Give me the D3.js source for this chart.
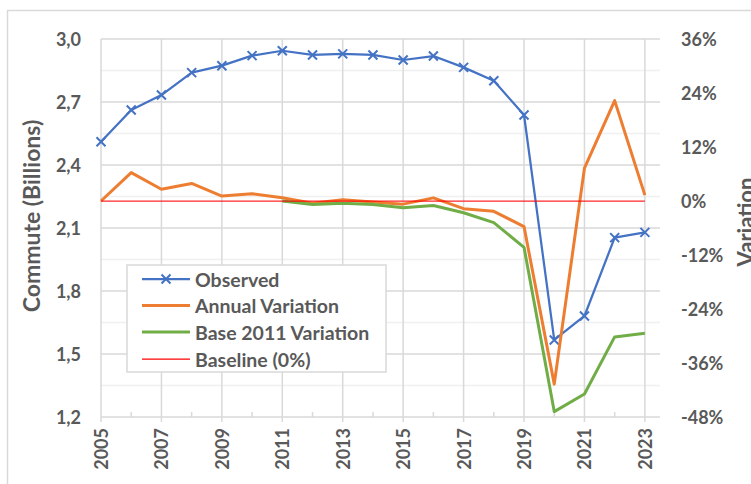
<!DOCTYPE html>
<html>
<head>
<meta charset="utf-8">
<script src="https://cdn.jsdelivr.net/npm/d3@7"></script>
<style>
  html, body { margin: 0; padding: 0; background: #fff; }
  svg { display: block; }
  text { font-family: Lato, "Open Sans", "Liberation Sans", sans-serif; fill: #595959; }
</style>
</head>
<body>
<svg id="chart" width="751" height="484"></svg>
<script>
// Yearly commute totals (billions) and the two variation series (%)
const years = [2005, 2006, 2007, 2008, 2009, 2010, 2011, 2012, 2013, 2014,
               2015, 2016, 2017, 2018, 2019, 2020, 2021, 2022, 2023];
const observed = [2.511, 2.662, 2.733, 2.840, 2.873, 2.921, 2.944, 2.924, 2.929, 2.924,
                  2.900, 2.919, 2.865, 2.801, 2.638, 1.567, 1.681, 2.054, 2.079];
const annualVariation = [0.0, 6.3, 2.6, 3.9, 1.1, 1.6, 0.7, -0.5, 0.3, -0.2,
                         -0.7, 0.7, -1.7, -2.3, -5.7, -40.7, 7.3, 22.3, 1.3];
const baseYears = [2011, 2012, 2013, 2014, 2015, 2016, 2017, 2018, 2019, 2020, 2021, 2022, 2023];
const base2011Variation = [0.0, -0.8, -0.5, -0.8, -1.5, -1.0, -2.6, -4.8, -10.3, -46.8, -42.9, -30.2, -29.4];
const baselineYears = [2005, 2023];
const baselineValues = [0, 0];

// Axis ticks
const leftTicks = [1.2, 1.5, 1.8, 2.1, 2.4, 2.7, 3.0];
const leftMinorTicks = [1.35, 1.65, 1.95, 2.25, 2.55, 2.85];
const rightTicks = [-48, -36, -24, -12, 0, 12, 24, 36];
const yearTicks = [2005, 2007, 2009, 2011, 2013, 2015, 2017, 2019, 2021, 2023];
const yearMinorTicks = [2006, 2008, 2010, 2012, 2014, 2016, 2018, 2020, 2022];

const legendItems = ["Observed", "Annual Variation", "Base 2011 Variation", "Baseline (0%)"];

const colors = { observed: "#4472C4", annual: "#ED7D31", base: "#70AD47", baseline: "#FF0000" };
const gridMajor = "#d9d9d9", gridMinor = "#f0f0f0";

const svg = d3.select("#chart");
const plot = { left: 101, right: 660, top: 39, bottom: 417 };

const x = d3.scaleLinear().domain([2005, 2023.5]).range([plot.left, plot.right]);
const yL = d3.scaleLinear().domain([1.2, 3.0]).range([plot.bottom, plot.top]);
const yR = d3.scaleLinear().domain([-48, 36]).range([plot.bottom, plot.top]);

const comma = d3.formatLocale({ decimal: ",", thousands: ".", grouping: [3], currency: ["", ""] }).format(".1f");

// Outer chart frame
svg.append("rect")
  .attr("x", 7.5).attr("y", 10.5).attr("width", 760).attr("height", 500)
  .attr("fill", "none").attr("stroke", gridMajor).attr("stroke-width", 1.5);

// Horizontal gridlines
const grid = svg.append("g");
grid.selectAll("line.minor").data(leftMinorTicks).join("line")
  .attr("class", "minor")
  .attr("x1", plot.left).attr("x2", plot.right)
  .attr("y1", d => yL(d)).attr("y2", d => yL(d))
  .attr("stroke", gridMinor).attr("stroke-width", 1.5);
grid.selectAll("line.major").data(leftTicks).join("line")
  .attr("class", "major")
  .attr("x1", plot.left).attr("x2", plot.right)
  .attr("y1", d => yL(d)).attr("y2", d => yL(d))
  .attr("stroke", gridMajor).attr("stroke-width", 1.5);

// Vertical gridlines at the labelled years, with ticks below the axis
grid.selectAll("line.vmajor").data(yearTicks).join("line")
  .attr("class", "vmajor")
  .attr("x1", d => x(d)).attr("x2", d => x(d))
  .attr("y1", plot.top).attr("y2", plot.bottom + 5)
  .attr("stroke", gridMajor).attr("stroke-width", 1.5);
// Minor ticks on the year axis
grid.selectAll("line.vminor").data(yearMinorTicks).join("line")
  .attr("class", "vminor")
  .attr("x1", d => x(d)).attr("x2", d => x(d))
  .attr("y1", plot.bottom - 5).attr("y2", plot.bottom)
  .attr("stroke", gridMajor).attr("stroke-width", 1.5);

// Axis tick labels
svg.append("g").selectAll("text").data(leftTicks).join("text")
  .attr("x", 81).attr("y", d => yL(d))
  .attr("text-anchor", "end").attr("dominant-baseline", "central")
  .attr("font-size", 18).attr("font-weight", "bold")
  .text(d => comma(d));

svg.append("g").selectAll("text").data(rightTicks).join("text")
  .attr("x", 681).attr("y", d => yR(d))
  .attr("text-anchor", "start").attr("dominant-baseline", "central")
  .attr("font-size", 18).attr("font-weight", "bold")
  .text(d => d + "%");

svg.append("g").selectAll("text").data(yearTicks).join("text")
  .attr("transform", d => `translate(${x(d)},${plot.bottom + 11}) rotate(-90)`)
  .attr("text-anchor", "end").attr("dominant-baseline", "central")
  .attr("font-size", 18).attr("font-weight", "bold")
  .text(d => d);

// Axis titles (the right one runs off the page edge)
svg.append("text")
  .attr("transform", `translate(31,216) rotate(-90)`)
  .attr("text-anchor", "middle").attr("dominant-baseline", "central")
  .attr("font-size", 23).attr("font-weight", "bold")
  .text("Commute (Billions)");
svg.append("text")
  .attr("transform", `translate(745,222) rotate(-90)`)
  .attr("text-anchor", "middle").attr("dominant-baseline", "central")
  .attr("font-size", 22).attr("font-weight", "bold")
  .text("Variation");

// Series
const obsData = years.map((yr, i) => [yr, observed[i]]);
const annData = years.map((yr, i) => [yr, annualVariation[i]]);
const baseData = baseYears.map((yr, i) => [yr, base2011Variation[i]]);
const zeroData = baselineYears.map((yr, i) => [yr, baselineValues[i]]);

const lineL = d3.line().x(d => x(d[0])).y(d => yL(d[1]));
const lineR = d3.line().x(d => x(d[0])).y(d => yR(d[1]));

svg.append("path").datum(obsData).attr("d", lineL)
  .attr("fill", "none").attr("stroke", colors.observed).attr("stroke-width", 2.25)
  .attr("stroke-linejoin", "round");

const cross = (cx, cy, r) => `M${cx - r},${cy - r}L${cx + r},${cy + r}M${cx - r},${cy + r}L${cx + r},${cy - r}`;
svg.append("g").selectAll("path").data(obsData).join("path")
  .attr("d", d => cross(x(d[0]), yL(d[1]), 4.5))
  .attr("stroke", colors.observed).attr("stroke-width", 2).attr("fill", "none");

svg.append("path").datum(annData).attr("d", lineR)
  .attr("fill", "none").attr("stroke", colors.annual).attr("stroke-width", 3)
  .attr("stroke-linejoin", "round");
svg.append("path").datum(baseData).attr("d", lineR)
  .attr("fill", "none").attr("stroke", colors.base).attr("stroke-width", 3)
  .attr("stroke-linejoin", "round");
svg.append("path").datum(zeroData).attr("d", lineR)
  .attr("fill", "none").attr("stroke", colors.baseline).attr("stroke-width", 1.25)
  .attr("stroke-opacity", 0.85);

// Legend
const legend = svg.append("g");
legend.append("rect")
  .attr("x", 127).attr("y", 265).attr("width", 259).attr("height", 107)
  .attr("fill", "#fff").attr("stroke", gridMajor).attr("stroke-width", 1.5);
const legendStyles = [
  { color: colors.observed, width: 2.25, marker: true },
  { color: colors.annual, width: 3 },
  { color: colors.base, width: 3 },
  { color: colors.baseline, width: 1.25 }
];
const rowY = [279, 305.5, 332, 359];
legendItems.forEach((label, i) => {
  const s = legendStyles[i];
  legend.append("line")
    .attr("x1", 142).attr("x2", 190).attr("y1", rowY[i]).attr("y2", rowY[i])
    .attr("stroke", s.color).attr("stroke-width", s.width);
  if (s.marker) {
    legend.append("path").attr("d", cross(166, rowY[i], 4.5))
      .attr("stroke", s.color).attr("stroke-width", 2).attr("fill", "none");
  }
  legend.append("text")
    .attr("x", 195).attr("y", rowY[i])
    .attr("dominant-baseline", "central")
    .attr("font-size", 19.5).attr("font-weight", "bold")
    .text(label);
});
</script>
</body>
</html>
